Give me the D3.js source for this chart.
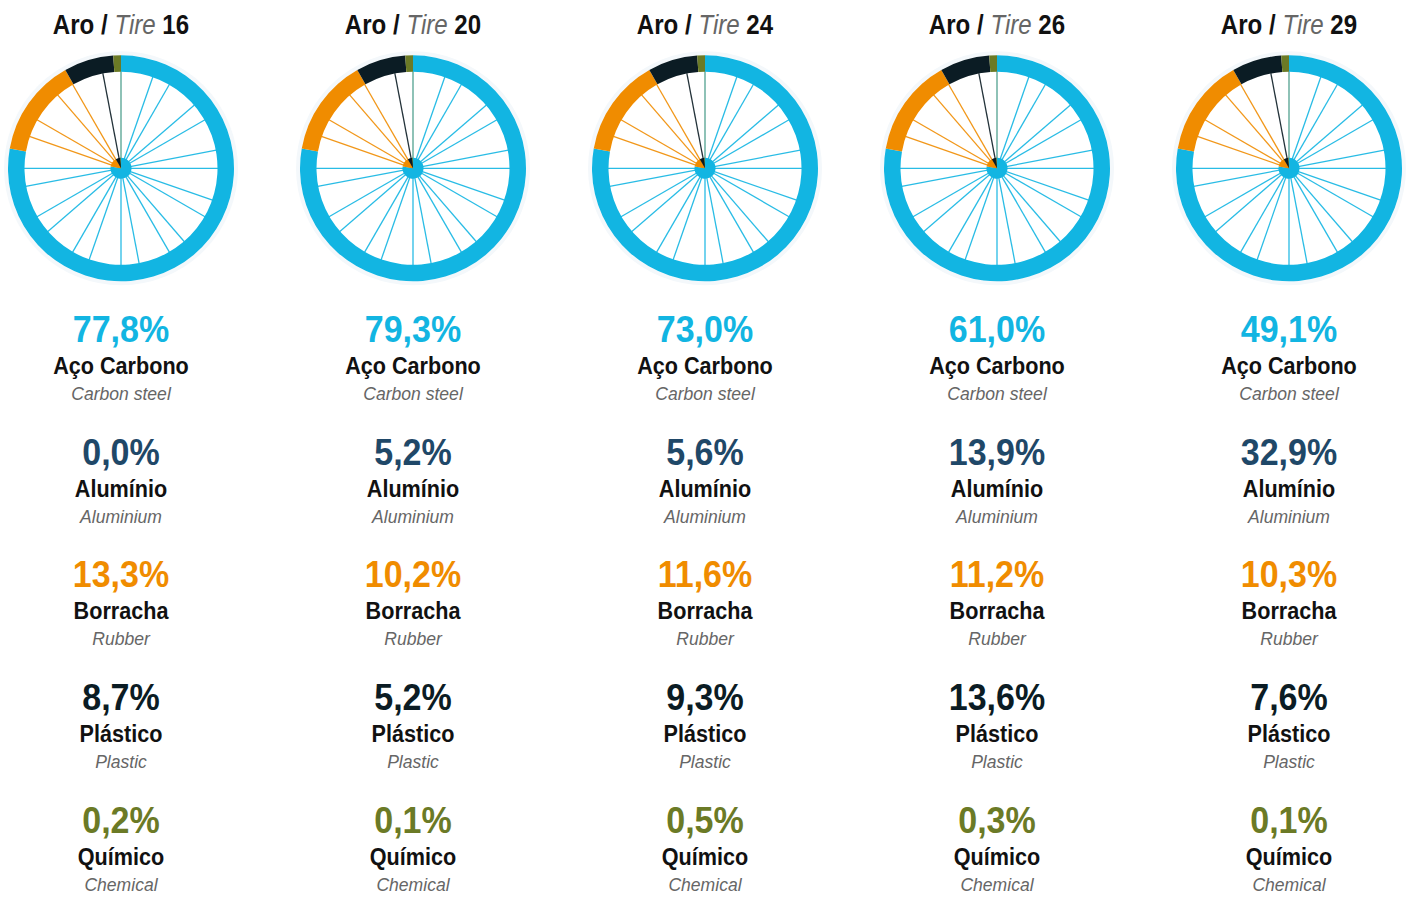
<!DOCTYPE html>
<html>
<head>
<meta charset="utf-8">
<script src="https://cdn.jsdelivr.net/npm/d3@7"></script>
<style>
  body { margin: 0; background: #fff; }
  svg text { font-family: "Liberation Sans", Arial, sans-serif; }
</style>
</head>
<body>
<svg id="chart" width="1407" height="898"></svg>
<script>
var tires = ["16", "20", "24", "26", "29"];
var materialsPt = ["Aço Carbono", "Alumínio", "Borracha", "Plástico", "Químico"];
var materialsEn = ["Carbon steel", "Aluminium", "Rubber", "Plastic", "Chemical"];
var colors = ["#12b5e2", "#1f4868", "#f08c00", "#0b1c24", "#6b7a26"];

var carbonSteel = [77.8, 79.3, 73.0, 61.0, 49.1];
var aluminium   = [0.0, 5.2, 5.6, 13.9, 32.9];
var rubber      = [13.3, 10.2, 11.6, 11.2, 10.3];
var plastic     = [8.7, 5.2, 9.3, 13.6, 7.6];
var chemical    = [0.2, 0.1, 0.5, 0.3, 0.1];

// the rim is the same picture in every column (shares as drawn)
var wheelShares = [77.8, 0.0, 14.0, 7.1, 1.1];

var series = [carbonSteel, aluminium, rubber, plastic, chemical];

var svg = d3.select("#chart");

var x = d3.scalePoint().domain(tires).range([121, 1289]);
var y = d3.scalePoint().domain(materialsPt).range([342, 833]);

var pie = d3.pie().sort(null).value(function(d) { return d; });
var slices = pie(wheelShares);

var rimArc = d3.arc().innerRadius(96.5).outerRadius(113);
var hubArc = d3.arc().innerRadius(0).outerRadius(10.5);

var fmt = function(v) { return d3.format(".1f")(v).replace(".", ",") + "%"; };

// narrow look: squeeze Liberation Sans sideways
function narrow(sel, k) { return sel.attr("transform", "scale(" + k + ",1)"); }

// spoke colour follows the rim segment it reaches
function spokeColor(a) {
  var bounds = slices.filter(function(s) { return s.endAngle > s.startAngle; });
  for (var i = 0; i < bounds.length; i++) {
    var s = bounds[i];
    var near = Math.abs(a - s.startAngle) < 0.02 || Math.abs(a - (s.startAngle + 2 * Math.PI)) < 0.02;
    if (near) {
      var prev = bounds[(i - 1 + bounds.length) % bounds.length];
      return d3.interpolateRgb(colors[prev.index], colors[s.index])(0.5);
    }
    if (a >= s.startAngle && a < s.endAngle) return colors[s.index];
  }
  return colors[0];
}

var spokes = d3.range(12).reduce(function(acc, k) {
  acc.push(k * 30, (k * 30 - 10.8 + 360) % 360);
  return acc;
}, []).map(function(deg) { return deg * Math.PI / 180; });

var col = svg.selectAll(".col")
    .data(tires)
  .enter().append("g")
    .attr("class", "col")
    .attr("transform", function(d) { return "translate(" + x(d) + ",0)"; });

// title
var title = col.append("text")
    .attr("y", 34)
    .attr("text-anchor", "middle")
    .style("font-size", "28px")
    .call(narrow, 0.86);
title.append("tspan").style("font-weight", "bold").attr("fill", "#111").text("Aro / ");
title.append("tspan").style("font-style", "italic").attr("fill", "#666").text("Tire");
title.append("tspan").style("font-weight", "bold").attr("fill", "#111").text(function(d) { return " " + d; });

// wheel
var wheel = col.append("g").attr("transform", "translate(0,168.3)");

wheel.append("circle")
    .attr("r", 115)
    .attr("fill", "none")
    .attr("stroke", "#f4f8fb")
    .attr("stroke-width", 4);

wheel.selectAll(".spoke")
    .data(spokes)
  .enter().append("line")
    .attr("class", "spoke")
    .attr("x1", 0).attr("y1", 0)
    .attr("x2", function(a) { return 97 * Math.sin(a); })
    .attr("y2", function(a) { return -97 * Math.cos(a); })
    .attr("stroke", function(a) { return spokeColor(a); })
    .attr("stroke-opacity", 0.9)
    .attr("stroke-width", 1.3);

wheel.selectAll(".rim")
    .data(slices)
  .enter().append("path")
    .attr("class", "rim")
    .attr("d", rimArc)
    .attr("fill", function(d) { return colors[d.index]; });

wheel.selectAll(".hub")
    .data(slices)
  .enter().append("path")
    .attr("class", "hub")
    .attr("d", hubArc)
    .attr("fill", function(d) { return colors[d.index]; });

// labels
materialsPt.forEach(function(m, i) {
  var yb = y(m);
  col.append("text")
      .attr("y", yb)
      .attr("text-anchor", "middle")
      .attr("fill", colors[i])
      .style("font-size", "37px")
      .style("font-weight", "bold")
      .call(narrow, 0.92)
      .text(function(d, j) { return fmt(series[i][j]); });
  col.append("text")
      .attr("y", yb + 32)
      .attr("text-anchor", "middle")
      .attr("fill", "#111")
      .style("font-size", "24px")
      .style("font-weight", "bold")
      .call(narrow, 0.9)
      .text(m);
  col.append("text")
      .attr("y", yb + 58)
      .attr("text-anchor", "middle")
      .attr("fill", "#666")
      .style("font-size", "18.5px")
      .style("font-style", "italic")
      .call(narrow, 0.95)
      .text(materialsEn[i]);
});
</script>
</body>
</html>
